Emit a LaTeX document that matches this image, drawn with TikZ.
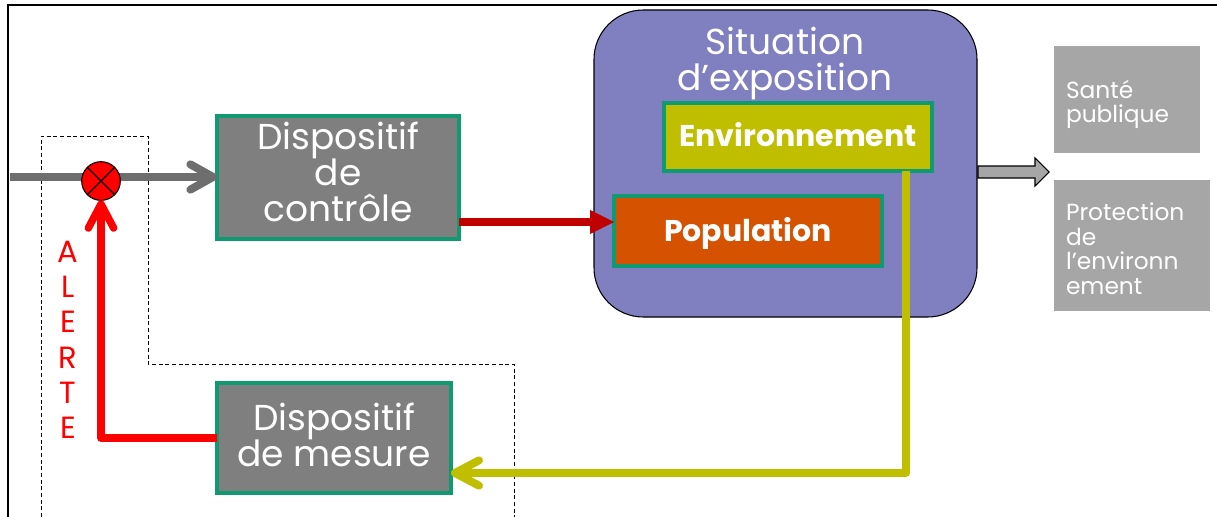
\documentclass[tikz,border=0pt]{standalone}
\usepackage{fontspec}
\setmainfont{Poppins}
\usetikzlibrary{arrows.meta,fit,calc}

\definecolor{devgray}{HTML}{7F7F7F}
\definecolor{devborder}{HTML}{109A72}
\definecolor{expofill}{HTML}{8080C0}
\definecolor{envfill}{HTML}{BFBF00}
\definecolor{popfill}{HTML}{D45200}
\definecolor{outgray}{HTML}{A6A6A6}
\definecolor{flowgray}{HTML}{6E6E6E}
\definecolor{darkred}{HTML}{C00000}
\definecolor{alertred}{HTML}{FF0000}

\newcommand{\bigtext}{\fontsize{27}{27}\selectfont}
\newcommand{\boldtext}{\fontsize{22.5}{24}\selectfont\bfseries}
\newcommand{\smalltext}{\fontsize{17.5}{18.4}\selectfont}
\newcommand{\alerttext}{\fontsize{23}{26.5}\selectfont}

\begin{document}
\begin{tikzpicture}[x=0.75pt,y=-0.75pt,
  every node/.style={inner sep=0pt,outer sep=0pt},
  device/.style={draw=devborder,line width=3pt,fill=devgray},
  inner/.style={draw=devborder,line width=3pt},
  boxtext/.style={text=white,align=center,font=\bigtext},
  innertext/.style={text=white,font=\boldtext},
  outcome/.style={fill=outgray},
  outtext/.style={text=white,align=left,font=\smalltext,anchor=north west},
  grayflow/.style={draw=flowgray,line width=6pt,-{Straight Barb[length=17pt,width=19pt,round]}},
  yellowflow/.style={draw=envfill,line width=6pt,line join=round,-{Straight Barb[length=18pt,width=19pt,round]}},
  alertflow/.style={draw=alertred,line width=5.6pt,line join=round,-{Straight Barb[length=18pt,width=19pt,round]}},
  actflow/.style={draw=darkred,line width=6.5pt,-{Triangle[length=18pt,width=18pt,line width=0pt]}}
]
\useasboundingbox (0,0) rectangle (1217,517);

% outer frame (top and left sides)
\draw[line width=2.2pt] (8,517) -- (8,5) -- (1217,5);

% dashed outline around the alert loop
\draw[line width=0.6pt,dash pattern=on 3pt off 2pt]
  (41,517) -- (41,136) -- (148,136) -- (148,364) -- (514,364) -- (514,517);

% exposure situation
\node[fill=expofill,draw=black,line width=0.8pt,rounded corners=37pt,fit={(594,10) (977,317)}] (expo) {};
\node[boxtext] (title) at (785,63) {Situation\\d’exposition};
\node[inner,fill=envfill,fit={(664,103) (932,171)}] (env) {};
\node[innertext] (envtxt) at ([yshift=1.8pt]env.center) {Environnement};
\node[inner,fill=popfill,fit={(614,196) (882,266)}] (pop) {};
\node[innertext] (poptxt) at ([yshift=-1.5pt]pop.center) {Population};

% control and measurement devices
\node[device,fit={(217,116) (459,239)}] (ctrl) {};
\node[boxtext] (ctrltxt) at ([yshift=4pt]ctrl.center) {Dispositif\\de\\contrôle};
\node[device,fit={(217,383) (451,493)}] (meas) {};
\node[boxtext] (meastxt) at ([yshift=2.5pt]meas.center) {Dispositif\\de mesure};

% outcomes
\node[outcome,fit={(1054,46) (1200,153)}] (sante) {};
\node[outtext] (santetxt) at (1066,80) {Santé\\publique};
\node[outcome,fit={(1054,180) (1210,311)}] (protect) {};
\node[outtext] (protecttxt) at (1066,203) {Protection\\de\\l’environn\\ement};

% block arrow towards the outcomes
\draw[fill=outgray,line width=0.8pt]
  (978,166) -- (1035,166) -- (1035,158) -- (1049,172) -- (1035,186) -- (1035,178) -- (978,178) -- cycle;

% input flow and comparator
\coordinate (src) at (10,177);
\coordinate (bend) at (906,473);
\draw[grayflow] (src) -- (ctrl.west |- src);
\node[circle,draw=black,line width=0.8pt,fill=red,minimum size=29pt] (sum) at (101,181) {};
\draw[line width=0.8pt] (sum.north west) -- (sum.south east) (sum.north east) -- (sum.south west);

% action on the population
\draw[actflow] (ctrl.east |- 0,222) -- (pop.west |- 0,222);

% measurement feedback
\draw[yellowflow] (env.south -| bend) -- (bend) -- (meas.east |- bend);

% alert feedback
\draw[alertflow] (meas.west) -| (sum.south);
\node[text=alertred,align=center,font=\alerttext] (alert) at (68,340) {A\\L\\E\\R\\T\\E};

\end{tikzpicture}
\end{document}
